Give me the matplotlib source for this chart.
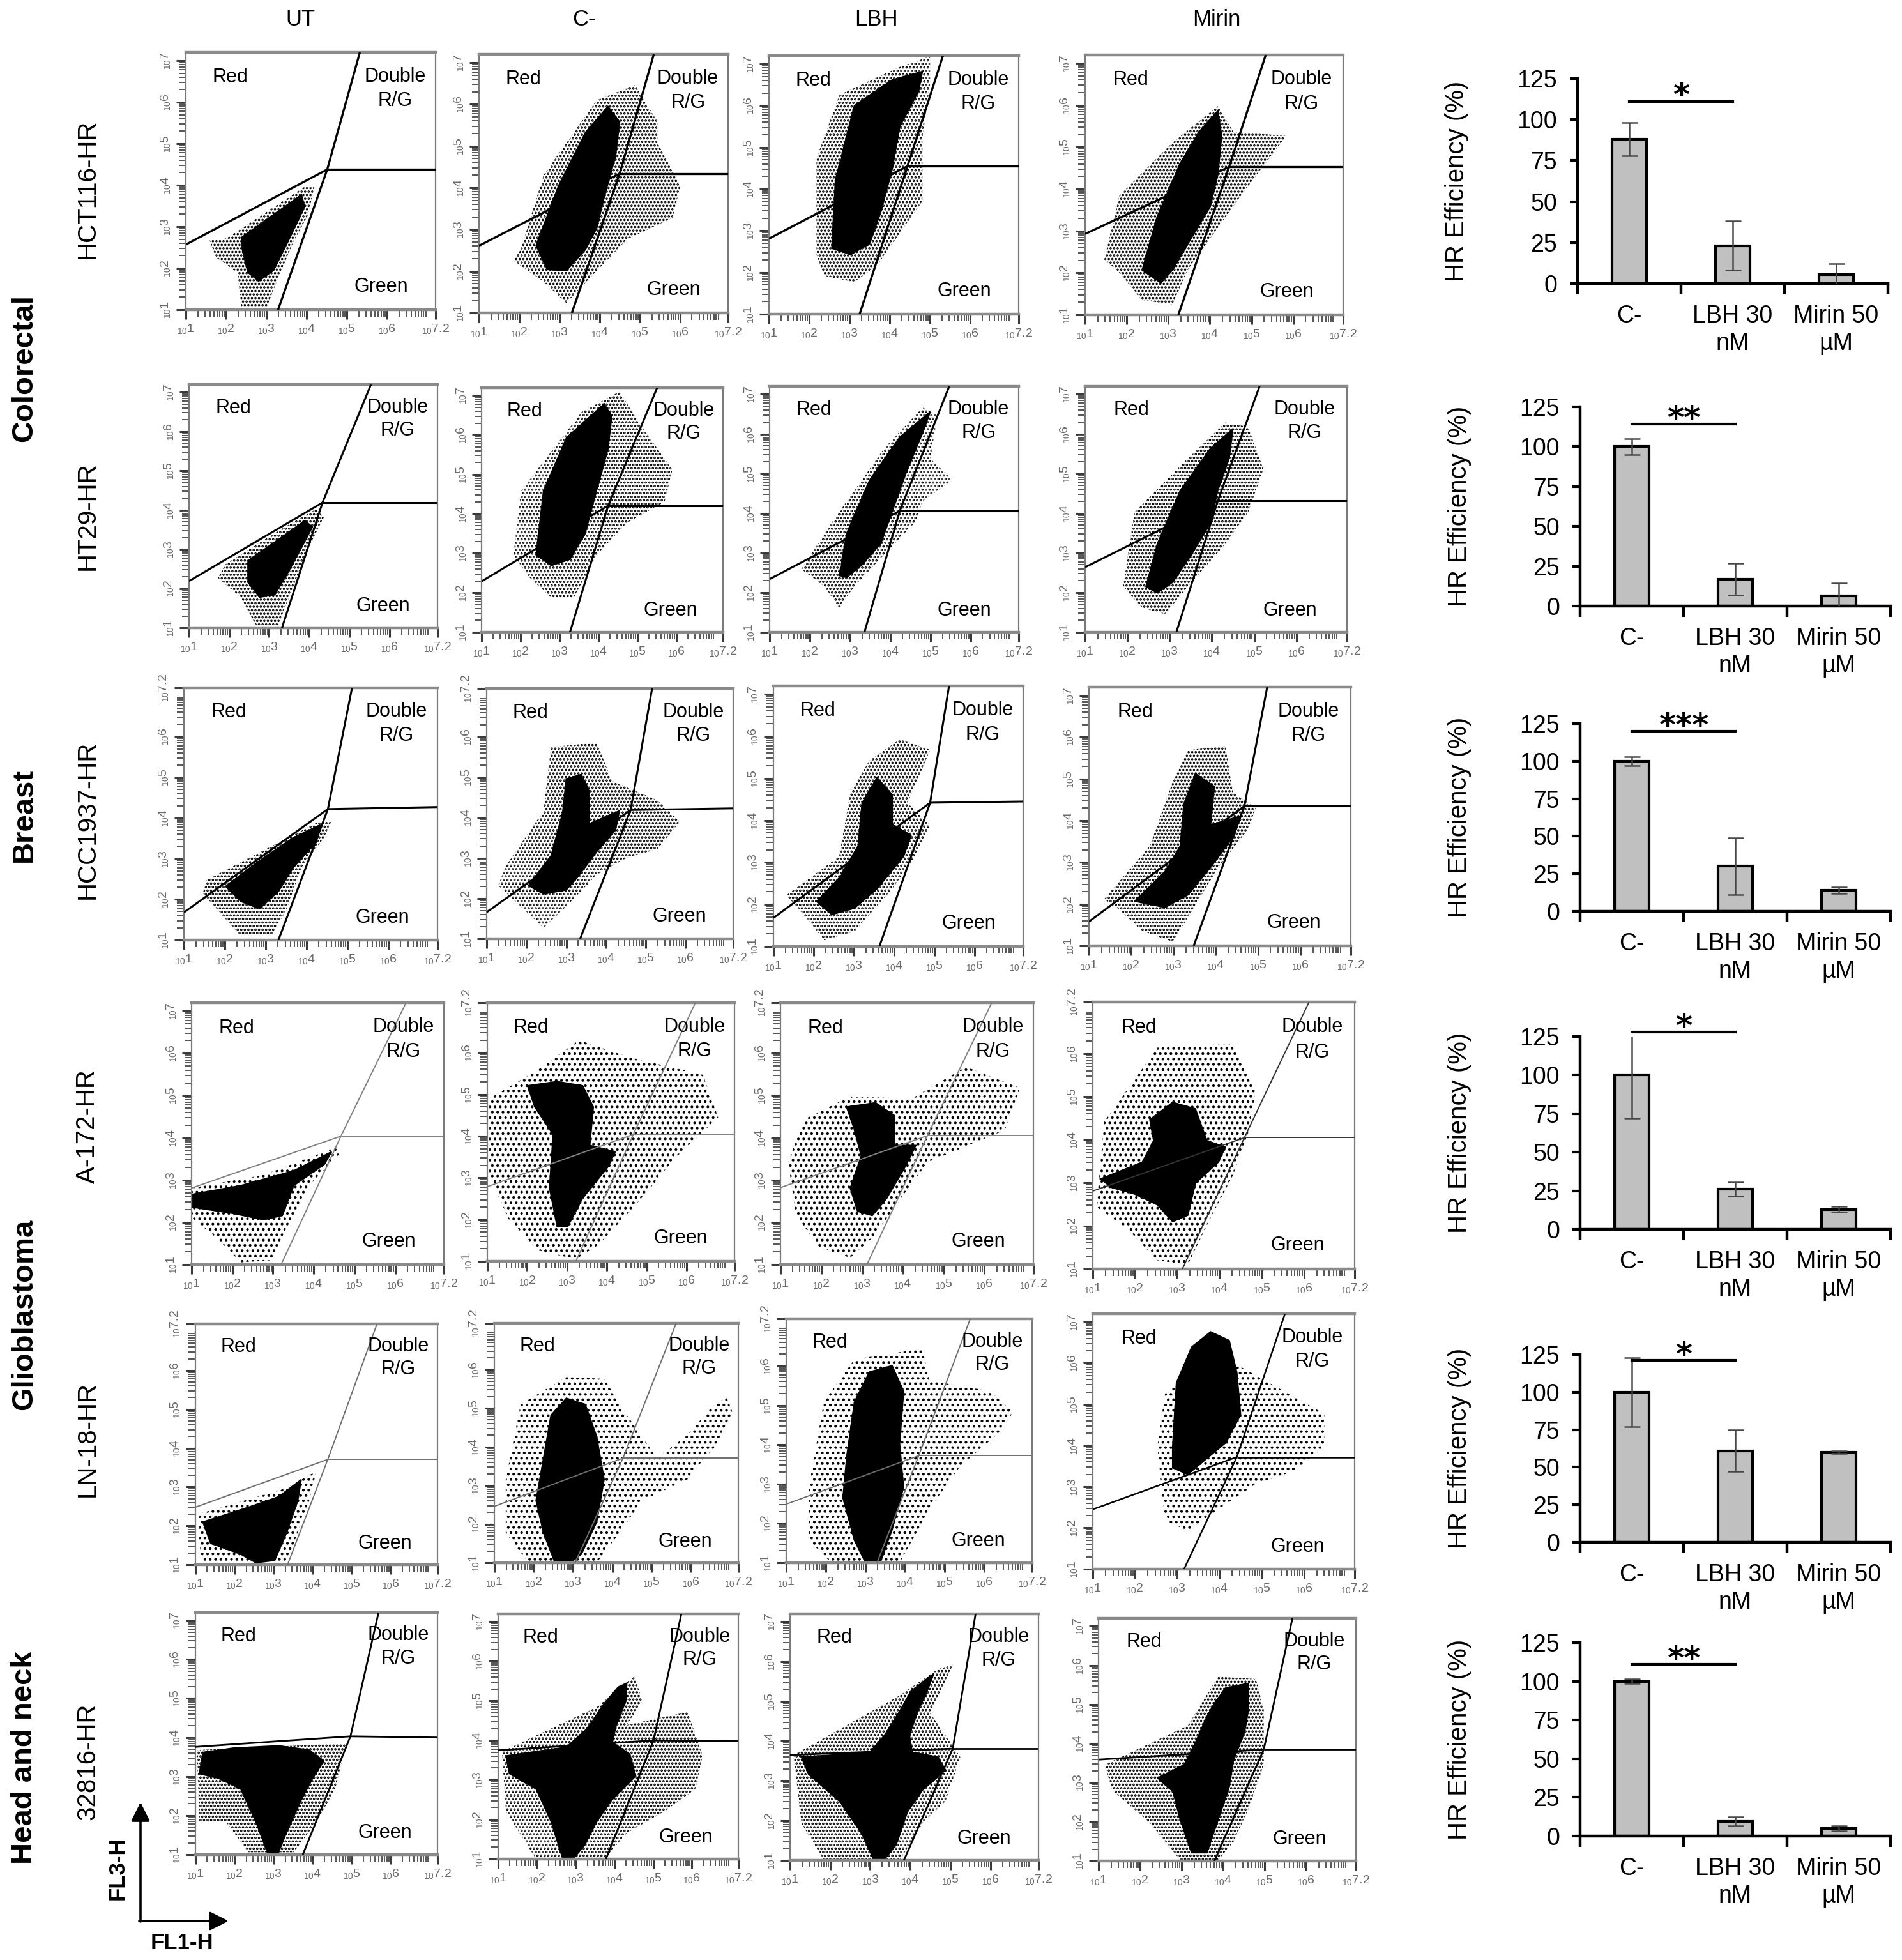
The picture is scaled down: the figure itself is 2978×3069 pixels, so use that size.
import matplotlib
matplotlib.use('Agg')
import matplotlib.pyplot as plt
import numpy as np
from matplotlib.patches import Polygon

plt.rcParams['font.family'] = ['Liberation Sans', 'DejaVu Sans']
plt.rcParams['mathtext.fontset'] = 'custom'
plt.rcParams['mathtext.rm'] = 'Liberation Sans'
plt.rcParams['hatch.linewidth'] = 1.8

# ---------------- text content ----------------
TREATMENTS = ['UT', 'C-', 'LBH', 'Mirin']
CELL_LINES = ['HCT116-HR', 'HT29-HR', 'HCC1937-HR', 'A-172-HR', 'LN-18-HR', '32816-HR']
TISSUES = ['Colorectal', 'Breast', 'Glioblastoma', 'Head and neck']
BAR_CATS = ['C-', 'LBH 30\nnM', 'Mirin 50\n\u00b5M']

# ---------------- HR efficiency bars (%) ----------------
HCT116_HR = [88, 23, 5.5];   HCT116_ERR = [10, 15, 6.5]
HT29_HR = [100, 17, 6.5];    HT29_ERR = [5, 10, 8]
HCC1937_HR = [100, 30, 14];  HCC1937_ERR = [3, 19, 2]
A172_HR = [100, 26, 13];     A172_ERR = [28, 4.5, 2]
LN18_HR = [100, 61, 60];     LN18_ERR = [23, 14, 1]
HN32816_HR = [100, 9.5, 5];  HN32816_ERR = [1.5, 3, 1.5]
SIG_STARS = ['*', '**', '***', '*', '*', '**']
SIG_LEVEL = [111, 114, 120, 128, 121, 111]

# ---------------- flow gates (log10 units): x_int, y_int, y_left, x_top, x_bottom, y_right ----------------
HCT116_GATES = [(4.51, 4.38, 2.57, 5.32, 3.29, 4.38), (4.50, 4.34, 2.61, 5.35, 3.31, 4.34),
                (4.44, 4.55, 2.81, 5.32, 3.25, 4.55), (4.46, 4.53, 2.93, 5.34, 3.24, 4.53)]
HT29_GATES = [(4.33, 4.19, 2.19, 5.54, 3.32, 4.19), (4.25, 4.21, 2.29, 5.51, 3.27, 4.21),
              (4.24, 4.06, 2.34, 5.47, 3.36, 4.06), (4.14, 4.31, 2.64, 5.13, 3.16, 4.31)]
HCC1937_GATES = [(4.52, 4.22, 1.68, 5.11, 3.31, 4.27), (4.62, 4.19, 1.66, 5.16, 3.35, 4.23),
                 (4.89, 4.42, 1.68, 5.36, 3.63, 4.45), (4.68, 4.35, 1.58, 5.22, 3.48, 4.35)]
A172_GATES = [(4.67, 4.04, 2.81, 6.27, 3.20, 4.04), (4.66, 4.04, 2.79, 6.22, 3.22, 4.04),
              (4.60, 4.05, 2.82, 6.18, 3.12, 4.05), (4.59, 4.05, 2.81, 6.12, 3.12, 4.05)]
LN18_GATES = [(4.39, 3.71, 2.48, 5.65, 3.36, 3.71), (4.27, 3.71, 2.46, 5.62, 3.05, 3.71),
              (4.34, 3.72, 2.49, 5.64, 3.29, 3.72), (4.41, 3.72, 2.45, 5.55, 3.16, 3.72)]
HN32816_GATES = [(4.97, 4.03, 3.76, 5.69, 3.75, 4.00), (5.01, 4.00, 3.75, 5.73, 3.78, 3.98),
                 (5.06, 3.81, 3.65, 5.63, 3.84, 3.81), (4.98, 3.85, 3.59, 5.67, 3.79, 3.85)]

# ---------------- dense event clouds (outline, log10 FL1-H, log10 FL3-H) ----------------
HCT116_DENSE = [
    [(2.38, 2.74), (3.87, 3.77), (3.95, 3.49), (3.55, 2.67), (3.18, 1.95), (2.81, 1.69), (2.54, 1.90), (2.41, 2.41)],
    [(2.42, 2.62), (2.98, 4.05), (3.65, 5.33), (4.21, 5.95), (4.50, 5.58), (4.40, 4.76), (4.12, 3.79), (3.93, 3.03), (3.65, 2.52), (3.17, 2.01), (2.70, 2.04)],
    [(2.56, 2.58), (2.65, 4.22), (3.12, 6.00), (4.06, 6.62), (4.81, 6.82), (4.72, 6.36), (4.25, 5.50), (4.06, 4.48), (3.78, 3.46), (3.50, 2.69), (3.03, 2.43)],
    [(2.37, 2.07), (2.73, 3.34), (3.28, 4.61), (3.74, 5.37), (4.19, 5.87), (4.28, 5.27), (4.19, 4.35), (4.01, 3.59), (3.55, 2.83), (3.10, 2.07), (2.82, 1.76)]]
HT29_DENSE = [
    [(2.47, 2.71), (3.23, 3.25), (3.89, 3.73), (4.08, 3.57), (3.80, 3.03), (3.42, 2.32), (3.14, 1.84), (2.76, 1.78), (2.47, 2.16)],
    [(2.40, 2.96), (2.59, 4.58), (3.18, 5.93), (4.15, 6.79), (4.34, 6.47), (4.25, 5.66), (3.95, 4.58), (3.66, 3.50), (3.27, 2.85), (2.79, 2.69)],
    [(2.73, 2.43), (2.92, 3.50), (3.49, 4.84), (4.24, 5.92), (5.00, 6.56), (4.81, 6.03), (4.43, 5.11), (4.05, 4.04), (3.77, 3.24), (3.30, 2.70), (2.92, 2.38)],
    [(2.44, 2.15), (2.71, 3.23), (3.25, 4.57), (3.97, 5.64), (4.50, 6.13), (4.41, 5.38), (4.14, 4.57), (3.97, 3.76), (3.52, 2.96), (3.07, 2.26), (2.71, 1.99)]]
HCC1937_DENSE = [
    [(2.02, 2.32), (2.76, 2.89), (3.68, 3.52), (4.33, 3.83), (4.24, 3.41), (3.68, 2.79), (3.31, 2.20), (2.85, 1.77), (2.39, 1.95)],
    [(2.05, 2.32), (2.62, 3.06), (2.91, 4.12), (3.00, 4.96), (3.38, 5.07), (3.58, 4.65), (3.58, 3.85), (4.34, 4.17), (4.24, 3.69), (3.77, 3.16), (3.29, 2.53), (3.00, 2.21), (2.43, 2.11)],
    [(2.07, 2.07), (2.63, 2.63), (3.10, 3.39), (3.20, 4.41), (3.57, 5.02), (3.95, 4.61), (3.95, 3.90), (4.42, 3.65), (4.23, 3.14), (3.57, 2.37), (3.01, 1.91), (2.45, 1.76)],
    [(2.08, 2.07), (2.80, 2.78), (3.16, 3.39), (3.25, 4.41), (3.52, 5.13), (3.97, 4.82), (3.88, 3.90), (4.59, 4.11), (4.41, 3.60), (3.88, 2.88), (3.34, 2.22), (2.80, 1.92)]]
A172_DENSE = [
    [(1.00, 2.66), (2.21, 2.87), (3.51, 3.22), (4.44, 3.67), (4.26, 3.37), (3.51, 2.87), (3.23, 2.16), (2.77, 2.06), (2.02, 2.21), (1.00, 2.36)],
    [(2.01, 5.21), (2.75, 5.31), (3.39, 5.21), (3.66, 4.70), (3.57, 3.78), (4.21, 3.63), (4.03, 3.27), (3.39, 2.51), (3.02, 1.84), (2.75, 1.84), (2.56, 2.76), (2.65, 4.04), (2.19, 4.70)],
    [(2.62, 4.73), (3.33, 4.83), (3.79, 4.53), (3.79, 3.82), (4.32, 3.82), (4.06, 3.32), (3.60, 2.56), (3.25, 2.16), (2.89, 2.26), (2.71, 2.81), (2.98, 3.57), (2.80, 4.23)],
    [(2.35, 4.47), (2.89, 4.87), (3.43, 4.72), (3.70, 3.98), (4.14, 3.83), (3.97, 3.48), (3.43, 2.99), (3.25, 2.25), (2.89, 2.10), (2.53, 2.49), (1.99, 2.74), (1.45, 2.89), (1.18, 3.09), (2.17, 3.48), (2.44, 3.98)]]
LN18_DENSE = [
    [(1.19, 2.10), (2.36, 2.48), (3.13, 2.75), (3.71, 3.19), (3.62, 2.64), (3.33, 1.81), (3.03, 1.11), (2.55, 1.05), (2.16, 1.27), (1.39, 1.55)],
    [(2.25, 3.71), (2.44, 4.82), (2.83, 5.26), (3.31, 5.10), (3.60, 4.27), (3.79, 3.16), (3.60, 2.05), (3.21, 1.22), (2.93, 1.00), (2.54, 1.00), (2.25, 1.77), (2.06, 2.61)],
    [(2.53, 3.73), (2.72, 5.09), (3.10, 5.85), (3.67, 6.01), (3.96, 5.36), (3.86, 4.01), (3.96, 2.92), (3.67, 1.84), (3.38, 1.03), (3.00, 1.00), (2.72, 1.57), (2.43, 2.65)],
    [(2.89, 3.97), (2.98, 5.52), (3.34, 6.39), (3.79, 6.76), (4.23, 6.55), (4.41, 5.78), (4.50, 4.75), (4.15, 4.07), (3.61, 3.61), (3.25, 3.30), (2.89, 3.46)]]
HN32816_DENSE = [
    [(1.19, 3.62), (1.97, 3.73), (3.13, 3.79), (3.91, 3.68), (4.29, 3.40), (4.00, 2.95), (3.71, 2.40), (3.33, 1.56), (3.13, 1.06), (2.84, 1.06), (2.55, 1.84), (2.16, 2.68), (1.58, 2.96), (1.10, 3.07)],
    [(1.20, 3.61), (2.76, 3.83), (3.30, 4.30), (3.75, 4.95), (4.10, 5.35), (4.32, 5.45), (4.30, 5.00), (4.05, 4.40), (3.95, 3.95), (4.40, 3.65), (4.55, 3.10), (3.93, 2.49), (3.54, 1.94), (3.25, 1.38), (2.96, 1.03), (2.66, 1.03), (2.37, 1.94), (1.98, 2.77), (1.29, 3.16)],
    [(1.28, 3.60), (2.98, 3.71), (3.36, 4.15), (3.74, 4.76), (4.02, 5.26), (4.59, 5.70), (4.40, 5.20), (4.21, 4.81), (3.98, 4.15), (4.05, 3.72), (4.69, 3.60), (4.88, 3.27), (4.31, 2.77), (3.93, 2.22), (3.65, 1.39), (3.36, 1.03), (3.08, 1.03), (2.80, 1.66), (2.23, 2.49), (1.47, 3.16)],
    [(3.06, 3.46), (3.33, 4.02), (3.61, 4.69), (3.79, 5.03), (4.06, 5.42), (4.61, 5.54), (4.61, 4.86), (4.52, 4.30), (4.25, 3.57), (4.15, 2.90), (3.97, 2.33), (3.79, 1.77), (3.61, 1.21), (3.24, 1.21), (2.97, 2.05), (2.79, 2.78), (2.42, 3.12)]]

# ---------------- sparse event halos (outline) ----------------
HCT116_SPARSE = [
    [(2.01, 2.72), (3.93, 3.95), (4.19, 3.95), (4.03, 3.28), (3.66, 2.61), (3.24, 1.64), (3.02, 1.08), (2.38, 1.08), (2.28, 1.90), (1.75, 2.26), (1.59, 2.67)],
    [(2.04, 2.52), (2.61, 4.31), (3.93, 6.10), (4.88, 6.46), (5.44, 5.59), (5.44, 5.08), (6.01, 4.05), (5.82, 3.28), (4.69, 2.77), (3.93, 2.01), (3.17, 1.24), (2.61, 1.75), (1.85, 2.26)],
    [(2.18, 2.43), (2.18, 4.73), (2.75, 6.26), (4.25, 6.93), (5.00, 7.18), (5.00, 6.52), (4.81, 5.24), (4.81, 3.71), (4.25, 2.95), (3.69, 2.18), (3.12, 1.77), (2.37, 1.92)],
    [(1.46, 2.32), (1.82, 3.84), (3.10, 5.11), (4.19, 5.98), (4.56, 5.37), (5.83, 5.27), (5.29, 4.56), (4.74, 3.84), (4.19, 3.08), (3.46, 2.07), (3.10, 1.25), (2.37, 1.35), (1.82, 2.01)]]
HT29_SPARSE = [
    [(1.91, 2.62), (3.42, 3.59), (4.18, 4.03), (4.36, 3.81), (3.99, 3.06), (3.61, 2.08), (3.23, 1.08), (2.66, 1.08), (2.29, 1.78), (1.72, 2.27)],
    [(1.82, 2.96), (2.01, 4.58), (3.57, 6.58), (4.54, 7.10), (5.12, 6.20), (5.90, 5.12), (5.70, 4.31), (4.73, 3.77), (3.95, 2.96), (3.37, 1.88), (2.79, 1.88), (2.20, 2.42)],
    [(1.79, 2.59), (2.55, 3.77), (3.86, 5.65), (4.81, 6.67), (5.18, 6.46), (5.00, 5.38), (5.56, 4.84), (4.81, 4.31), (4.62, 3.77), (3.86, 2.97), (3.11, 2.16), (2.73, 1.62), (2.36, 2.16)],
    [(1.90, 2.15), (2.17, 4.03), (3.43, 5.38), (4.32, 6.29), (4.86, 6.18), (5.22, 5.11), (4.86, 4.03), (4.32, 3.23), (3.43, 2.15), (2.89, 1.46), (2.35, 1.62)]]
HCC1937_SPARSE = [
    [(1.56, 2.48), (4.24, 3.88), (4.61, 3.93), (4.42, 3.51), (3.87, 2.78), (3.50, 1.73), (3.13, 1.10), (2.39, 1.10), (1.83, 1.73), (1.46, 2.15)],
    [(1.48, 2.80), (2.43, 4.17), (2.62, 5.75), (3.77, 5.86), (4.15, 4.91), (5.29, 4.43), (5.86, 3.90), (5.29, 3.22), (4.53, 3.01), (3.77, 2.59), (3.00, 1.80), (2.43, 1.27), (1.86, 1.80), (1.29, 2.32)],
    [(1.32, 2.22), (2.63, 3.14), (2.91, 4.66), (3.38, 5.42), (4.14, 5.93), (4.89, 5.68), (4.33, 4.41), (4.89, 3.90), (4.51, 3.14), (3.95, 2.37), (3.01, 1.36), (2.26, 1.15), (1.88, 1.61)],
    [(1.36, 2.12), (2.44, 3.39), (2.98, 4.92), (3.34, 5.69), (4.23, 5.79), (4.41, 4.67), (4.95, 4.31), (4.77, 3.80), (4.06, 2.88), (3.52, 1.97), (2.98, 1.10), (2.26, 1.36), (1.72, 1.87)]]
A172_SPARSE = [
    [(1.00, 2.81), (2.77, 3.12), (4.54, 3.77), (4.63, 3.62), (3.89, 2.87), (3.33, 1.86), (2.95, 1.10), (2.21, 1.05), (1.65, 1.60), (1.00, 2.11)],
    [(1.05, 4.90), (2.28, 5.60), (3.30, 6.30), (4.53, 5.90), (6.41, 5.47), (6.79, 4.45), (5.66, 3.43), (5.10, 2.77), (4.53, 2.15), (3.78, 1.39), (3.22, 1.05), (2.28, 1.26), (1.53, 2.02), (1.05, 3.04)],
    [(1.57, 4.43), (2.71, 4.98), (4.22, 4.93), (5.55, 5.68), (6.87, 5.18), (6.50, 4.18), (4.60, 3.42), (4.03, 2.67), (3.28, 1.66), (2.71, 1.16), (1.95, 1.41), (1.38, 2.17), (1.19, 3.42)],
    [(1.27, 4.42), (2.53, 6.14), (4.32, 6.24), (4.86, 5.15), (4.68, 4.17), (4.32, 3.18), (3.79, 2.19), (3.25, 1.10), (2.53, 1.20), (1.81, 1.94), (1.09, 2.44)]]
LN18_SPARSE = [
    [(1.10, 2.31), (3.33, 2.97), (4.10, 3.41), (3.91, 2.64), (3.52, 1.55), (3.33, 1.00), (1.19, 1.00), (1.10, 1.55)],
    [(1.29, 3.16), (1.67, 5.10), (2.83, 5.81), (3.79, 5.76), (4.37, 4.82), (5.14, 3.71), (5.90, 4.30), (6.50, 5.00), (6.90, 5.30), (7.05, 4.90), (6.60, 4.00), (6.00, 3.30), (5.91, 3.16), (4.75, 2.61), (4.18, 1.77), (3.60, 1.00), (1.87, 1.00), (1.29, 1.77)],
    [(1.57, 2.92), (1.95, 5.09), (2.72, 6.17), (4.43, 6.44), (4.62, 5.63), (6.15, 5.36), (6.72, 4.82), (6.34, 4.28), (5.39, 3.46), (4.62, 2.38), (3.86, 1.00), (2.14, 1.00), (1.57, 1.57)],
    [(2.53, 3.97), (2.71, 5.26), (3.61, 5.97), (4.50, 5.91), (5.58, 5.29), (6.48, 4.77), (6.48, 3.99), (5.76, 3.38), (4.86, 3.07), (3.97, 2.45), (3.25, 1.93), (2.71, 2.19)]]
HN32816_SPARSE = [
    [(1.04, 3.68), (4.88, 3.85), (4.78, 3.51), (4.58, 2.68), (4.10, 1.84), (3.52, 1.06), (2.36, 1.06), (1.78, 1.84), (1.10, 1.84)],
    [(1.10, 3.72), (3.54, 4.84), (4.52, 5.62), (4.72, 5.00), (4.32, 4.39), (5.89, 4.72), (6.28, 3.61), (6.09, 2.77), (5.30, 2.21), (4.32, 1.66), (3.74, 1.00), (1.98, 1.00), (1.20, 2.20)],
    [(1.09, 3.65), (3.74, 5.15), (4.69, 5.81), (5.06, 5.92), (4.50, 4.70), (5.25, 3.60), (4.88, 2.49), (4.31, 1.94), (3.74, 1.00), (1.85, 1.00), (1.28, 1.94)],
    [(1.15, 3.46), (3.15, 4.46), (3.88, 5.71), (4.79, 5.65), (4.98, 4.86), (4.98, 3.46), (4.61, 2.33), (4.25, 1.49), (3.88, 1.02), (2.97, 1.02), (2.24, 1.97), (1.33, 2.81)]]

# ---------------- axis tick labels (log10 exponent) ----------------
X_TICKS = [1, 2, 3, 4, 5, 6, 7.2]
Y_TICKS = [1, 2, 3, 4, 5, 6, 7]
Y_TICKS_72 = [1, 2, 3, 4, 5, 6, 7.2]
TOP72 = [[False] * 4, [False] * 4, [True, True, False, False],
         [False, True, True, True], [True, True, True, False], [False] * 4]

# ---------------- layout (pixels in the 2978 x 3069 canvas) ----------------
W, H = 2978, 3069
PANEL_BOXES = [
    [(291, 682, 82, 485), (750, 1140, 85, 490), (1204, 1595, 87, 492), (1699, 2103, 86, 493)],
    [(296, 685, 602, 983), (754, 1132, 607, 990), (1205, 1595, 605, 990), (1699, 2109, 605, 990)],
    [(288, 685, 1077, 1472), (762, 1148, 1078, 1470), (1211, 1602, 1074, 1482), (1705, 2115, 1076, 1481)],
    [(300, 695, 1570, 1980), (763, 1150, 1570, 1975), (1222, 1618, 1570, 1980), (1711, 2121, 1569, 1987)],
    [(306, 685, 2073, 2450), (774, 1156, 2072, 2447), (1231, 1616, 2065, 2447), (1711, 2121, 2057, 2457)],
    [(306, 685, 2525, 2904), (780, 1156, 2527, 2911), (1237, 1626, 2527, 2913), (1720, 2123, 2534, 2914)]]
BAR_BOXES = [(2470, 2956, 123, 444), (2474, 2960, 637, 949), (2474, 2960, 1133, 1427),
             (2474, 2960, 1623, 1925), (2474, 2960, 2121, 2415), (2474, 2960, 2572, 2875)]
GATE_STYLE = [[('black', 2.4)] * 4, [('black', 2.2)] * 4, [('black', 2.2)] * 4,
              [('#808080', 1.4)] * 3 + [('#333333', 1.4)],
              [('#6e6e6e', 1.4)] * 3 + [('black', 1.8)],
              [('black', 2.0)] * 4]
HALO_HATCH = ['...', '...', '...', '..', '..', '...']

GATES = [HCT116_GATES, HT29_GATES, HCC1937_GATES, A172_GATES, LN18_GATES, HN32816_GATES]
DENSE = [HCT116_DENSE, HT29_DENSE, HCC1937_DENSE, A172_DENSE, LN18_DENSE, HN32816_DENSE]
SPARSE = [HCT116_SPARSE, HT29_SPARSE, HCC1937_SPARSE, A172_SPARSE, LN18_SPARSE, HN32816_SPARSE]
HR_MEANS = [HCT116_HR, HT29_HR, HCC1937_HR, A172_HR, LN18_HR, HN32816_HR]
HR_ERRS = [HCT116_ERR, HT29_ERR, HCC1937_ERR, A172_ERR, LN18_ERR, HN32816_ERR]

fig = plt.figure(figsize=(W / 100, H / 100), dpi=100)


def rect(L, R, T, B):
    return [L / W, 1 - B / H, (R - L) / W, (B - T) / H]


def exp_label(v):
    return r'$_{10}$' + ('%g' % v)


# overlay for free text and the axis key
ov = fig.add_axes([0, 0, 1, 1])
ov.set_xlim(0, W)
ov.set_ylim(H, 0)
ov.axis('off')

for name, xh in zip(TREATMENTS, [470, 915, 1372, 1905]):
    ov.text(xh, 30, name, ha='center', va='center', fontsize=25)
for name, yc in zip(CELL_LINES, [296, 808, 1284, 1764, 2254, 2758]):
    ov.text(137, yc, name, rotation=90, ha='center', va='center', fontsize=29)
for name, yc in zip(TISSUES, [577, 1276, 2058, 2752]):
    ov.text(38, yc, name, rotation=90, ha='center', va='center', fontsize=34, fontweight='bold')

ov.annotate('', xy=(220, 2822), xytext=(220, 3009),
            arrowprops=dict(arrowstyle='-|>', lw=2.6, color='black', mutation_scale=45, shrinkA=0, shrinkB=0))
ov.annotate('', xy=(358, 3008), xytext=(218, 3008),
            arrowprops=dict(arrowstyle='-|>', lw=2.6, color='black', mutation_scale=45, shrinkA=0, shrinkB=0))
ov.text(184, 2926, 'FL3-H', rotation=90, ha='center', va='center', fontsize=25, fontweight='bold')
ov.text(285, 3042, 'FL1-H', ha='center', va='center', fontsize=25, fontweight='bold')

minor = [d + np.log10(k) for d in range(1, 7) for k in range(2, 10)]

for r in range(6):
    for c in range(4):
        ax = fig.add_axes(rect(*PANEL_BOXES[r][c]))
        ax.set_xlim(1, 7.2)
        ax.set_ylim(1, 7.2)
        ax.add_patch(Polygon(SPARSE[r][c], closed=True, fill=False, hatch=HALO_HATCH[r],
                             edgecolor='black', linewidth=0, zorder=1))
        ax.add_patch(Polygon(DENSE[r][c], closed=True, facecolor='black',
                             edgecolor='black', linewidth=1.5, zorder=2))
        xi, yi, yl, xt, xb, yr = GATES[r][c]
        col, lw = GATE_STYLE[r][c]
        for xs, ys in [([1, xi], [yl, yi]), ([xi, xt], [yi, 7.2]),
                       ([xi, xb], [yi, 1]), ([xi, 7.2], [yi, yr])]:
            ax.plot(xs, ys, color=col, lw=lw, zorder=3, solid_capstyle='butt')
        ax.text(2.1, 6.6, 'Red', ha='center', va='center', fontsize=22, zorder=4)
        ax.text(6.2, 6.62, 'Double', ha='center', va='center', fontsize=22, zorder=4)
        ax.text(6.2, 6.03, 'R/G', ha='center', va='center', fontsize=22, zorder=4)
        ax.text(5.85, 1.55, 'Green', ha='center', va='center', fontsize=22, zorder=4)

        ax.set_xticks(X_TICKS)
        ax.set_xticklabels([exp_label(v) for v in X_TICKS])
        yt = Y_TICKS_72 if TOP72[r][c] else Y_TICKS
        ax.set_yticks(yt)
        ax.set_yticklabels([exp_label(v) for v in yt])
        ax.set_xticks(minor, minor=True)
        ax.set_yticks(minor, minor=True)
        ax.tick_params(which='major', direction='out', length=11, width=2.2, color='#3a3a3a',
                       labelsize=14, labelcolor='#6a6a6a', pad=4)
        ax.tick_params(which='minor', direction='out', length=8, width=1.4, color='#555555')
        ax.tick_params(axis='y', labelrotation=90)
        for lab in ax.get_yticklabels():
            lab.set_va('center')
        for side in ['left', 'right']:
            ax.spines[side].set_color('#7a7a7a')
            ax.spines[side].set_linewidth(1.6)
        for side in ['top', 'bottom']:
            ax.spines[side].set_color('#8a8a8a')
            ax.spines[side].set_linewidth(3.2)

for r in range(6):
    ax = fig.add_axes(rect(*BAR_BOXES[r]))
    x = np.arange(3)
    ax.bar(x, HR_MEANS[r], width=0.33, color='#c0c0c0', edgecolor='black', linewidth=3.0, zorder=2)
    ax.errorbar(x, HR_MEANS[r], yerr=HR_ERRS[r], fmt='none', ecolor='#474747',
                elinewidth=1.8, capsize=9, capthick=1.8, zorder=3)
    ax.set_xlim(-0.5, 2.5)
    ax.set_ylim(0, 125)
    for side in ['top', 'right']:
        ax.spines[side].set_visible(False)
    for side in ['left', 'bottom']:
        ax.spines[side].set_linewidth(3.2)
    ax.set_yticks([0, 25, 50, 75, 100, 125])
    ax.tick_params(axis='y', direction='out', length=9, width=3, labelsize=27, pad=14)
    ax.set_xticks([-0.5, 0.5, 1.5, 2.5])
    ax.set_xticklabels([])
    ax.tick_params(axis='x', which='major', direction='out', length=12, width=3.2)
    ax.set_xticks([0, 1, 2], minor=True)
    ax.set_xticklabels(BAR_CATS, minor=True)
    ax.tick_params(axis='x', which='minor', length=0, labelsize=27, pad=24)
    for lab in ax.get_xticklabels(minor=True):
        lab.set_linespacing(1.25)
    ax.plot([0, 1], [SIG_LEVEL[r], SIG_LEVEL[r]], color='black', lw=3, clip_on=False, zorder=4)
    ax.text(0.5, SIG_LEVEL[r] + 3, SIG_STARS[r], ha='center', va='center', fontsize=36,
            fontweight='bold', family='DejaVu Sans', clip_on=False)
    ax.set_ylabel('HR Efficiency (%)', fontsize=29)
    ax.yaxis.set_label_coords(-0.35, 0.5)

fig.savefig('out.png', dpi=100, facecolor='white')
